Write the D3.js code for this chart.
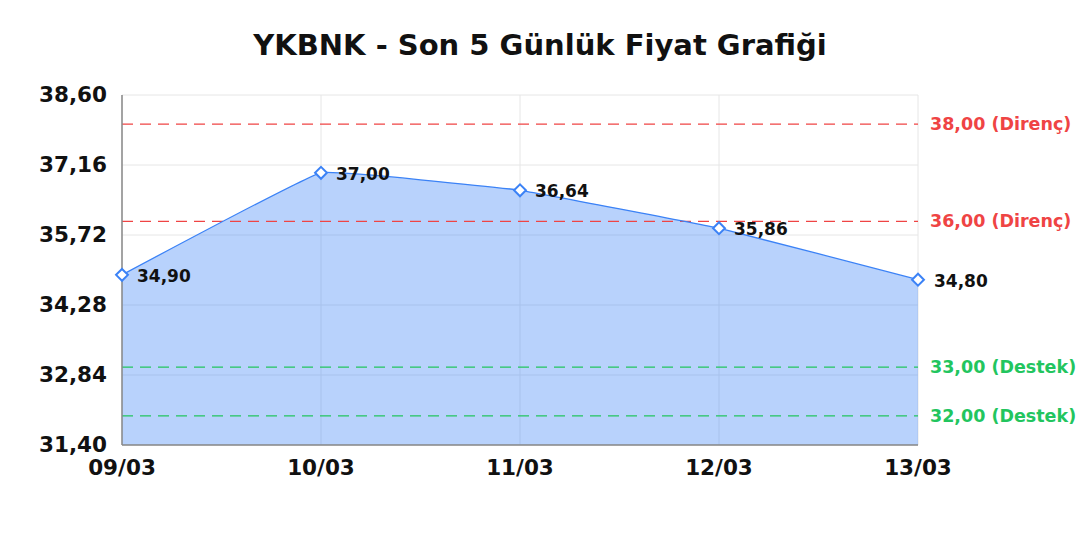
<!DOCTYPE html>
<html>
<head>
<meta charset="utf-8">
<script src="https://cdn.jsdelivr.net/npm/d3@7"></script>
<style>
    html, body { margin: 0; padding: 0; background: #fff; }
    svg { display: block; font-family: "DejaVu Sans", sans-serif; }
</style>
</head>
<body>
<div id="chart"></div>
<script>
const chartTitle = "YKBNK - Son 5 Günlük Fiyat Grafiği";
const dates = ["09/03", "10/03", "11/03", "12/03", "13/03"];
const prices = [34.90, 37.00, 36.64, 35.86, 34.80];
const yTicks = [31.40, 32.84, 34.28, 35.72, 37.16, 38.60];
const resistanceLevels = [38.00, 36.00];
const supportLevels = [33.00, 32.00];

function fmt(v) {
    return v.toFixed(2).replace(".", ",");
}

function renderChart() {
    const outerWidth = 1080;
    const outerHeight = 540;
    const margin = {top: 95, right: 162, bottom: 95, left: 122};
    const width = outerWidth - margin.left - margin.right;
    const height = outerHeight - margin.top - margin.bottom;

    const svg = d3.select("#chart")
        .append("svg")
        .attr("width", outerWidth)
        .attr("height", outerHeight);

    svg.append("text")
        .attr("x", 540)
        .attr("y", 55)
        .attr("text-anchor", "middle")
        .attr("font-size", 29)
        .attr("font-weight", "bold")
        .attr("fill", "#111")
        .text(chartTitle);

    const plot = svg.append("g")
        .attr("transform", `translate(${margin.left}, ${margin.top})`);

    const x = d3.scalePoint()
        .domain(dates)
        .range([0, width]);
    const y = d3.scaleLinear()
        .domain([yTicks[0], yTicks[yTicks.length - 1]])
        .range([height, 0]);

    // grid
    plot.append("g")
        .selectAll("line")
        .data(yTicks)
        .enter()
        .append("line")
        .attr("x1", 0)
        .attr("x2", width)
        .attr("y1", (d) => y(d))
        .attr("y2", (d) => y(d))
        .attr("stroke", "#e6e6e6")
        .attr("stroke-width", 1);
    plot.append("g")
        .selectAll("line")
        .data(dates)
        .enter()
        .append("line")
        .attr("x1", (d) => x(d))
        .attr("x2", (d) => x(d))
        .attr("y1", 0)
        .attr("y2", height)
        .attr("stroke", "#e6e6e6")
        .attr("stroke-width", 1);

    const curve = d3.curveCardinal.tension(0.8);
    const area = d3.area()
        .x((d, i) => x(dates[i]))
        .y0(height)
        .y1((d) => y(d))
        .curve(curve);
    const line = d3.line()
        .x((d, i) => x(dates[i]))
        .y((d) => y(d))
        .curve(curve);

    plot.append("path")
        .datum(prices)
        .attr("fill", "#3b82f6")
        .attr("fill-opacity", 0.36)
        .attr("d", area);

    // support / resistance lines
    const levels = resistanceLevels.map((v) => ({value: v, label: "Direnç", color: "#ef4444"}))
        .concat(supportLevels.map((v) => ({value: v, label: "Destek", color: "#22c55e"})));

    plot.selectAll(".level-line")
        .data(levels)
        .enter()
        .append("line")
        .attr("class", "level-line")
        .attr("x1", 0)
        .attr("x2", width)
        .attr("y1", (d) => y(d.value))
        .attr("y2", (d) => y(d.value))
        .attr("stroke", (d) => d.color)
        .attr("stroke-width", 1.3)
        .attr("stroke-dasharray", "11 7");

    plot.selectAll(".level-label")
        .data(levels)
        .enter()
        .append("text")
        .attr("class", "level-label")
        .attr("x", width + 12)
        .attr("y", (d) => y(d.value) + 6)
        .attr("font-size", 17.5)
        .attr("font-weight", "bold")
        .attr("fill", (d) => d.color)
        .text((d) => `${fmt(d.value)} (${d.label})`);

    plot.append("path")
        .datum(prices)
        .attr("fill", "none")
        .attr("stroke", "#3b82f6")
        .attr("stroke-width", 1.3)
        .attr("d", line);

    // axes
    plot.append("line")
        .attr("x1", 0).attr("x2", 0)
        .attr("y1", 0).attr("y2", height)
        .attr("stroke", "#888").attr("stroke-width", 1.5);
    plot.append("line")
        .attr("x1", 0).attr("x2", width)
        .attr("y1", height).attr("y2", height)
        .attr("stroke", "#888").attr("stroke-width", 1.5);

    const diamond = d3.symbol().type(d3.symbolDiamond2).size(90);
    plot.selectAll(".point")
        .data(prices)
        .enter()
        .append("path")
        .attr("class", "point")
        .attr("transform", (d, i) => `translate(${x(dates[i])}, ${y(d)})`)
        .attr("d", diamond)
        .attr("fill", "#fff")
        .attr("stroke", "#3b82f6")
        .attr("stroke-width", 2);

    plot.selectAll(".value-label")
        .data(prices)
        .enter()
        .append("text")
        .attr("class", "value-label")
        .attr("x", (d, i) => x(dates[i]) + (i === dates.length - 1 ? 16 : 15))
        .attr("y", (d) => y(d) + 7)
        .attr("font-size", 17)
        .attr("font-weight", "bold")
        .attr("fill", "#111")
        .text((d) => fmt(d));

    plot.selectAll(".y-label")
        .data(yTicks)
        .enter()
        .append("text")
        .attr("class", "y-label")
        .attr("x", -15)
        .attr("y", (d) => y(d) + 7)
        .attr("text-anchor", "end")
        .attr("font-size", 21.5)
        .attr("font-weight", "bold")
        .attr("fill", "#111")
        .text((d) => fmt(d));

    plot.selectAll(".x-label")
        .data(dates)
        .enter()
        .append("text")
        .attr("class", "x-label")
        .attr("x", (d) => x(d))
        .attr("y", height + 30)
        .attr("text-anchor", "middle")
        .attr("font-size", 21.5)
        .attr("font-weight", "bold")
        .attr("fill", "#111")
        .text((d) => d);
}

renderChart();
</script>
</body>
</html>
